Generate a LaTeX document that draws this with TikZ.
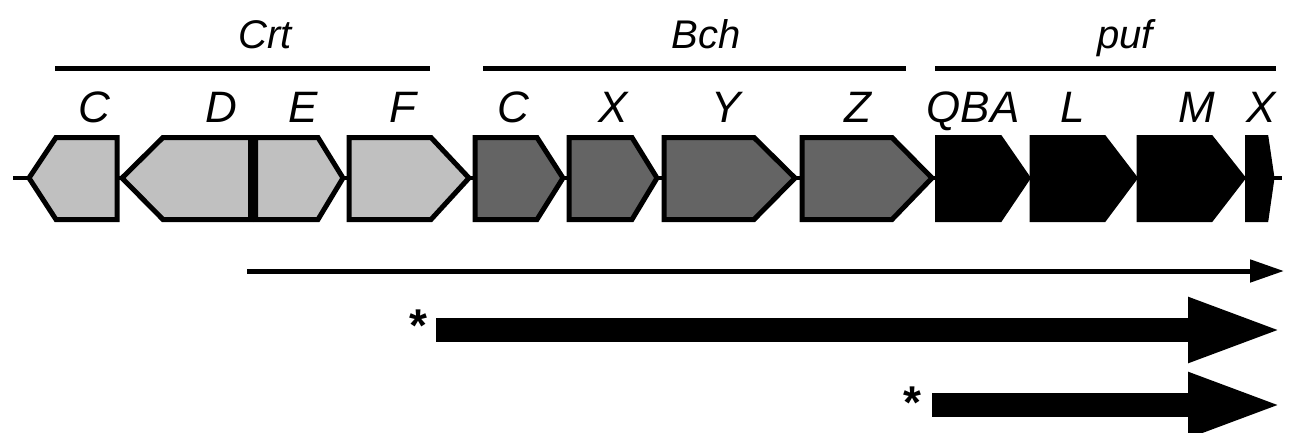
\documentclass[tikz,border=0pt]{standalone}
\usepackage{fontspec}
\setmainfont{Liberation Sans}
\usetikzlibrary{arrows.meta}
\definecolor{crtgrey}{RGB}{192,192,192}
\definecolor{bchgrey}{RGB}{100,100,100}
\tikzset{
  geneline/.style={line width=5pt, line join=miter},
  crtgene/.style={geneline, draw=black, fill=crtgrey},
  bchgene/.style={geneline, draw=black, fill=bchgrey},
  pufgene/.style={geneline, draw=black, fill=black},
  grouplab/.style={anchor=base, inner sep=0pt, font=\fontsize{40}{44}\selectfont\itshape},
  genelab/.style={anchor=base, inner sep=0pt, font=\fontsize{44}{48}\selectfont\itshape},
  grouprule/.style={line width=5pt},
  backbone/.style={line width=4pt},
  thinarrow/.style={line width=5pt, -{Triangle[length=34pt,width=22pt]}},
  thickarrow/.style={line width=24pt, -{Triangle[length=97pt,width=58pt]}},
  starlab/.style={anchor=base, inner sep=0pt, font=\fontsize{46}{50}\selectfont\bfseries},
}
\begin{document}
\begin{tikzpicture}[x=1pt, y=-1pt]
\useasboundingbox (0,0) rectangle (1294,432);
% group labels and rules
\node[grouplab] (crt) at (265,48) {Crt};
\node[grouplab] (bch) at (706,48) {Bch};
\node[grouplab] (puf) at (1125,48) {puf};
\draw[grouprule] (55,68) -- (430,68);
\draw[grouprule] (483,68) -- (906,68);
\draw[grouprule] (935,68) -- (1276,68);
% gene labels
\node[genelab] (lcrtc) at (94,122) {C};
\node[genelab] (lcrtd) at (221,122) {D};
\node[genelab] (lcrte) at (303,122) {E};
\node[genelab] (lcrtf) at (403,122) {F};
\node[genelab] (lbchc) at (513,122) {C};
\node[genelab] (lbchx) at (613,122) {X};
\node[genelab] (lbchy) at (726,122) {Y};
\node[genelab] (lbchz) at (858,122) {Z};
\node[genelab] (lqba) at (973,122) {QBA};
\node[genelab] (lpufl) at (1073,122) {L};
\node[genelab] (lpufm) at (1197,122) {M};
\node[genelab] (lpufx) at (1261,122) {X};
% backbone
\coordinate (bbl) at (13,178);
\coordinate (bbr) at (1282,178);
\draw[backbone] (bbl) -- (bbr);
% Crt genes
\path[crtgene] (29,178) -- (56,137.5) -- (117,137.5) -- (117,219.5) -- (56,219.5) -- cycle;
\path[crtgene] (122,178) -- (163,137.5) -- (250.5,137.5) -- (250.5,219.5) -- (163,219.5) -- cycle;
\path[crtgene] (255.5,137.5) -- (318,137.5) -- (343,178) -- (318,219.5) -- (255.5,219.5) -- cycle;
\path[crtgene] (349,137.5) -- (431,137.5) -- (469,178) -- (431,219.5) -- (349,219.5) -- cycle;
% Bch genes
\path[bchgene] (475,137.5) -- (537,137.5) -- (563,178) -- (537,219.5) -- (475,219.5) -- cycle;
\path[bchgene] (569,137.5) -- (632,137.5) -- (657,178) -- (632,219.5) -- (569,219.5) -- cycle;
\path[bchgene] (664,137.5) -- (754,137.5) -- (795,178) -- (754,219.5) -- (664,219.5) -- cycle;
\path[bchgene] (802,137.5) -- (892,137.5) -- (932,178) -- (892,219.5) -- (802,219.5) -- cycle;
% puf genes
\path[pufgene] (937.5,137.5) -- (1000,137.5) -- (1028,178) -- (1000,219.5) -- (937.5,219.5) -- cycle;
\path[pufgene] (1032,137.5) -- (1104,137.5) -- (1135,178) -- (1104,219.5) -- (1032,219.5) -- cycle;
\path[pufgene] (1139,137.5) -- (1211,137.5) -- (1243,178) -- (1211,219.5) -- (1139,219.5) -- cycle;
\path[pufgene] (1247.5,137.5) -- (1266,137.5) -- (1272,178) -- (1266,219.5) -- (1247.5,219.5) -- cycle;
% transcript arrows
\coordinate (a1s) at (247,271);
\coordinate (a1e) at (1284,271);
\draw[thinarrow] (a1s) -- (a1e);
\node[starlab] (star1) at (418,341) {*};
\coordinate (a2s) at (436,330);
\coordinate (a2e) at (1285,330);
\draw[thickarrow] (a2s) -- (a2e);
\node[starlab] (star2) at (912,418) {*};
\coordinate (a3s) at (932,405);
\coordinate (a3e) at (1285,405);
\draw[thickarrow] (a3s) -- (a3e);
\end{tikzpicture}
\end{document}
